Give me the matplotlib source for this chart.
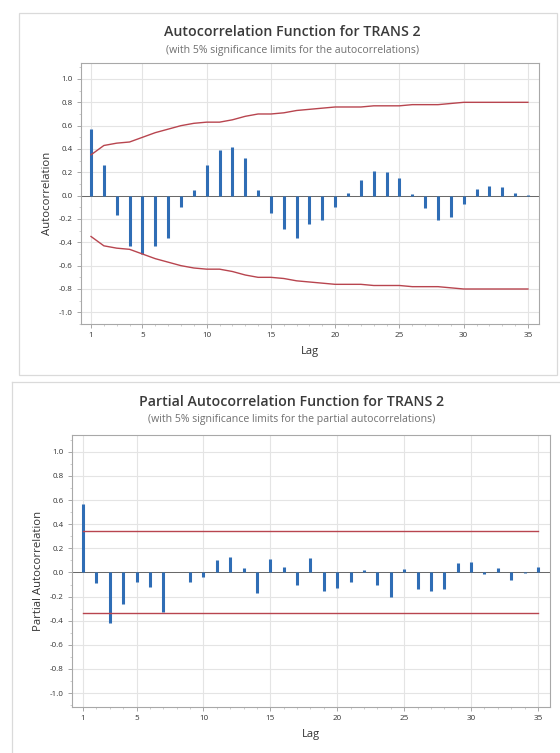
import numpy as np
import matplotlib.pyplot as plt
from matplotlib.patches import Rectangle
from matplotlib.ticker import MultipleLocator, FixedLocator

plt.rcParams['font.family'] = ['Open Sans', 'DejaVu Sans']
plt.rcParams['axes.unicode_minus'] = False

# ACF / PACF values for TRANS 2, lags 1..35
lags = list(range(1, 36))
acf = [0.57, 0.26, -0.17, -0.43, -0.50, -0.43, -0.36, -0.10, 0.05, 0.26,
       0.39, 0.42, 0.32, 0.05, -0.15, -0.29, -0.36, -0.24, -0.21, -0.10,
       0.02, 0.13, 0.21, 0.20, 0.15, 0.015, -0.11, -0.21, -0.18, -0.07,
       0.06, 0.08, 0.07, 0.025, 0.005]
acf_limit = [0.35, 0.43, 0.45, 0.46, 0.50, 0.54, 0.57, 0.60, 0.62, 0.63,
             0.63, 0.65, 0.68, 0.70, 0.70, 0.71, 0.73, 0.74, 0.75, 0.76,
             0.76, 0.76, 0.77, 0.77, 0.77, 0.78, 0.78, 0.78, 0.79, 0.80,
             0.80, 0.80, 0.80, 0.80, 0.80]
pacf = [0.57, -0.09, -0.42, -0.26, -0.08, -0.12, -0.33, 0.0, -0.08, -0.04,
        0.10, 0.13, 0.04, -0.17, 0.11, 0.045, -0.10, 0.12, -0.15, -0.125,
        -0.08, 0.02, -0.10, -0.20, 0.025, -0.135, -0.155, -0.135, 0.075, 0.09,
        -0.01, 0.04, -0.065, -0.005, 0.045]
pacf_limit = 0.34

xticks = [1, 5, 10, 15, 20, 25, 30, 35]
yticks = [-1.0, -0.8, -0.6, -0.4, -0.2, 0.0, 0.2, 0.4, 0.6, 0.8, 1.0]

W, H = 560, 753
fig = plt.figure(figsize=(W / 100, H / 100), dpi=100)
fig.patch.set_facecolor('white')

BAR = '#2F6DB5'
RED = '#B8454F'
GRID = '#E4E4E4'
TXT = '#333333'


def px(x, y):
    return x / W, 1 - y / H


def frame(x0, y0, x1, y1):
    fig.patches.append(Rectangle(px(x0, y1), (x1 - x0) / W, (y1 - y0) / H,
                                 transform=fig.transFigure, fill=False,
                                 edgecolor='#DADADA', linewidth=0.9))


def setup(ax, xlim, ylim, ylabel):
    ax.set_xlim(*xlim)
    ax.set_ylim(*ylim)
    ax.set_xticks(xticks)
    ax.set_yticks(yticks)
    ax.set_yticklabels([f'{v:.1f}' for v in yticks])
    ax.yaxis.set_minor_locator(MultipleLocator(0.1))
    ax.xaxis.set_minor_locator(FixedLocator(lags))
    ax.grid(True, which='major', color=GRID, linewidth=0.8)
    ax.set_axisbelow(True)
    for s in ax.spines.values():
        s.set_color('#A8A8A8')
        s.set_linewidth(0.8)
    ax.tick_params(which='major', length=3, width=0.6, color='#999999',
                   labelsize=5.8, labelcolor=TXT, pad=3)
    ax.tick_params(which='minor', length=1.5, width=0.5, color='#BBBBBB')
    ax.set_xlabel('Lag', fontsize=8, color=TXT, labelpad=5)
    ax.set_ylabel(ylabel, fontsize=8.2, color=TXT, labelpad=4)
    ax.axhline(0, color='#666666', linewidth=0.7, zorder=2)


# --- Autocorrelation ---
frame(19, 13, 557, 375)
ax1 = fig.add_axes([81 / W, 1 - 324 / H, (539 - 81) / W, (324 - 63) / H])
setup(ax1, (0.22, 35.86), (-1.10, 1.137), 'Autocorrelation')
ax1.vlines(lags, 0, acf, color=BAR, linewidth=2.2, zorder=3)
ax1.plot(lags, acf_limit, color=RED, linewidth=1.0, zorder=4)
ax1.plot(lags, [-v for v in acf_limit], color=RED, linewidth=1.0, zorder=4)
fig.text(*px(292, 32), 'Autocorrelation Function for TRANS 2', ha='center',
         va='center', fontsize=10.2, fontweight='semibold', color='#3A3A3A')
fig.text(*px(292, 50), '(with 5% significance limits for the autocorrelations)',
         ha='center', va='center', fontsize=7.6, color='#707070')

# --- Partial autocorrelation ---
fig.add_artist(plt.Line2D([12 / W, 1], [1 - 382 / H] * 2,
                          transform=fig.transFigure, color='#DADADA', linewidth=0.9))
fig.add_artist(plt.Line2D([12 / W] * 2, [1 - 382 / H, 0],
                          transform=fig.transFigure, color='#DADADA', linewidth=0.9))
ax2 = fig.add_axes([72 / W, 1 - 707 / H, (550 - 72) / W, (707 - 435) / H])
setup(ax2, (0.18, 35.9), (-1.116, 1.14), 'Partial Autocorrelation')
ax2.vlines(lags, 0, pacf, color=BAR, linewidth=2.2, zorder=3)
ax2.plot([lags[0], lags[-1]], [pacf_limit] * 2, color=RED, linewidth=1.0, zorder=4)
ax2.plot([lags[0], lags[-1]], [-pacf_limit] * 2, color=RED, linewidth=1.0, zorder=4)
fig.text(*px(292, 402), 'Partial Autocorrelation Function for TRANS 2', ha='center',
         va='center', fontsize=10.2, fontweight='semibold', color='#3A3A3A')
fig.text(*px(292, 420), '(with 5% significance limits for the partial autocorrelations)',
         ha='center', va='center', fontsize=7.6, color='#707070')

fig.savefig('out.png', dpi=100)
